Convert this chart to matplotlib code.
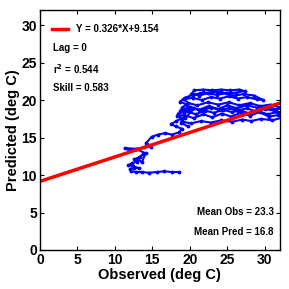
import numpy as np
import matplotlib
matplotlib.use("Agg")
import matplotlib.pyplot as plt

plt.rcParams["font.family"] = ["Liberation Sans", "DejaVu Sans"]
plt.rcParams["font.weight"] = "bold"

# observed / predicted trajectory
obs = [
    18.6, 17.6, 16.6, 15.6, 14.6, 13.6, 12.8, 12.2, 12.0,
    12.6, 13.2, 12.4, 11.8, 12.3, 13.0,
    12.6, 13.4, 13.8, 13.0, 13.6, 14.1,
    12.8, 11.3, 11.9, 12.9, 13.9, 14.8, 14.2,
    14.9, 15.8, 16.7, 17.6, 18.6, 18.9, 18.1, 17.5, 18.2, 19.0, 18.3,
    19.2, 20.5, 21.8, 23.0, 24.3, 25.5, 26.8, 28.0, 29.3, 30.5, 31.8, 32.5,
    31.0, 29.5, 28.2, 27.0, 25.6, 24.2, 22.8, 21.5, 20.2, 19.0,
    18.4, 19.6, 20.8, 22.0, 23.2, 24.4, 25.6, 26.8, 28.0, 29.2, 30.4, 31.6, 32.5,
    31.2, 30.0, 28.8, 27.6, 26.4, 25.2, 24.0, 22.8, 21.6, 20.4, 19.3,
    18.7, 20.0, 21.2, 22.5, 23.8, 25.0, 26.3, 27.6, 28.9, 30.2, 31.5, 32.5,
    30.8, 29.4, 28.0, 26.6, 25.2, 23.8, 22.4, 21.0, 19.8,
    19.2, 20.4, 21.6, 22.8, 24.0, 25.2, 26.4, 27.6, 28.9, 29.8,
    28.6, 27.2, 26.0, 24.8, 23.6, 22.4, 21.2, 20.2,
    20.6, 21.8, 23.0, 24.2, 25.4, 26.6, 27.3,
    26.2, 25.0, 23.6, 22.5, 21.4, 20.4, 19.3, 18.7, 19.6, 18.9, 19.9, 19.2, 20.6,
    19.4, 18.8, 19.7,
]
pred = [
    10.4, 10.4, 10.5, 10.4, 10.3, 10.4, 10.4, 10.5, 10.8,
    11.0, 10.9, 11.2, 11.3, 11.6, 11.8,
    12.1, 12.4, 12.8, 12.2, 11.7, 12.9,
    13.5, 13.6, 13.3, 13.5, 13.7, 13.8, 14.3,
    15.1, 15.4, 15.6, 15.4, 15.7, 16.2, 16.5, 16.8, 17.2, 17.6, 17.9,
    18.0, 17.6, 18.1, 17.7, 18.2, 17.8, 18.3, 17.9, 18.4, 17.8, 18.0, 17.7,
    17.3, 17.5, 17.2, 17.4, 17.1, 17.3, 17.0, 17.2, 16.9, 17.1,
    18.2, 18.5, 18.1, 18.6, 18.3, 18.7, 18.4, 18.6, 18.2, 18.5, 18.1, 18.4, 18.2,
    18.6, 18.8, 18.5, 18.9, 18.6, 18.9, 18.7, 19.0, 18.6, 18.9, 18.7,
    18.6, 19.1, 18.7, 19.2, 18.8, 19.3, 18.9, 19.3, 19.0, 19.1, 18.8, 18.9,
    19.4, 19.2, 19.6, 19.3, 19.7, 19.4, 19.7, 19.3, 19.6,
    20.1, 20.3, 20.0, 20.4, 20.2, 20.5, 20.2, 20.4, 20.1, 20.0,
    20.6, 20.8, 20.6, 20.9, 20.7, 20.9, 20.6, 20.8,
    21.3, 21.4, 21.3, 21.4, 21.3, 21.4, 21.2,
    21.0, 20.9, 21.1, 21.0, 20.9, 20.7, 20.3, 19.8, 19.4, 19.0, 18.6, 18.3, 18.9,
    17.6, 17.0, 16.5,
]

slope = 0.326
intercept = 9.154
lag = 0
r2 = 0.544
skill = 0.583
mean_obs = 23.3
mean_pred = 16.8

ticks = [0, 5, 10, 15, 20, 25, 30]

fig = plt.figure(figsize=(2.89, 2.89), dpi=100)
ax = fig.add_axes([0.138, 0.135, 0.830, 0.830])

ax.plot(obs, pred, color="blue", marker=".", markersize=3.5, linewidth=1.5)

xf = np.array([0, 32])
ax.plot(xf, slope * xf + intercept, color="red", linewidth=2.5,
        label=f"Y = {slope:.3f}*X+{intercept:.3f}")

ax.set_xlim(0, 32)
ax.set_ylim(0, 32)
ax.set_xticks(ticks)
ax.set_yticks(ticks)
ax.tick_params(direction="in", top=True, right=True, length=3, width=0.8,
               labelsize=10, pad=2)
for lab in ax.get_xticklabels() + ax.get_yticklabels():
    lab.set_fontweight("bold")
for s in ax.spines.values():
    s.set_linewidth(1)

ax.set_xlabel("Observed (deg C)", fontsize=10.5, fontweight="bold", labelpad=1)
ax.set_ylabel("Predicted (deg C)", fontsize=10.5, fontweight="bold", labelpad=1)

ax.legend(loc="center left", bbox_to_anchor=(0.05, 0.92), frameon=False,
          handlelength=1.65, handletextpad=0.85, borderpad=0, borderaxespad=0,
          prop={"weight": "bold", "size": 7})

ax.text(0.055, 0.84, f"Lag = {lag}", transform=ax.transAxes, fontsize=7,
        fontweight="bold", va="center")
ax.text(0.055, 0.755, f"r$^2$ = {r2:.3f}", transform=ax.transAxes, fontsize=7,
        fontweight="bold", va="center")
ax.text(0.055, 0.675, f"Skill = {skill:.3f}", transform=ax.transAxes, fontsize=7,
        fontweight="bold", va="center")
ax.text(0.975, 0.16, f"Mean Obs = {mean_obs}", transform=ax.transAxes,
        fontsize=7, fontweight="bold", ha="right", va="center")
ax.text(0.975, 0.077, f"Mean Pred = {mean_pred}", transform=ax.transAxes,
        fontsize=7, fontweight="bold", ha="right", va="center")

fig.savefig("out.png", dpi=100)
